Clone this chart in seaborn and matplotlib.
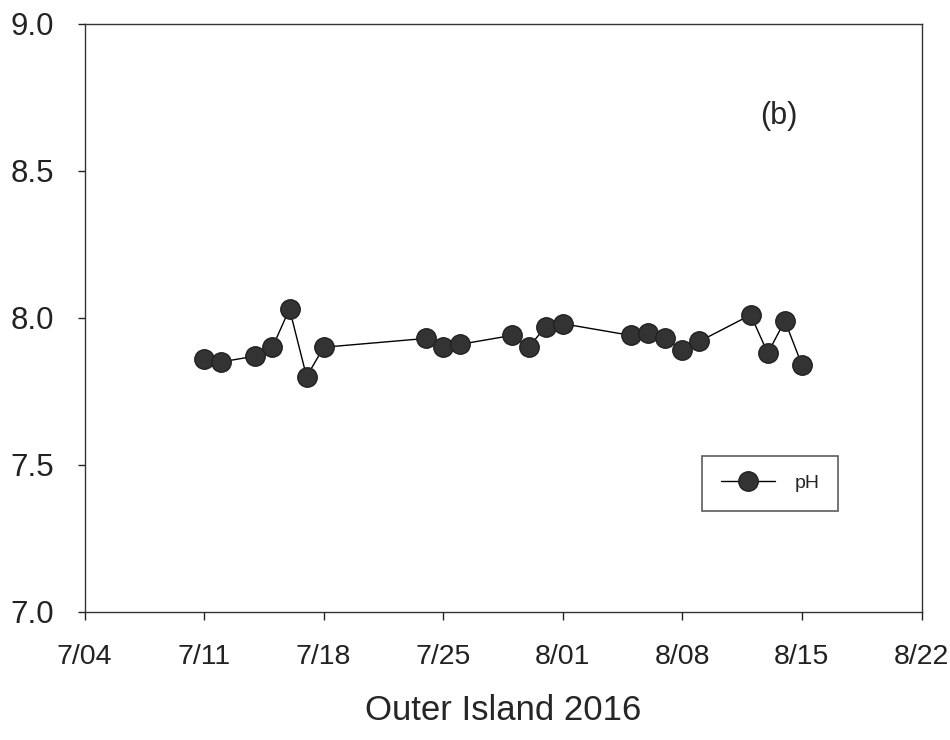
import matplotlib
matplotlib.use("Agg")
import matplotlib.pyplot as plt
import seaborn as sns
import pandas as pd

dates = ["2016-07-11", "2016-07-12", "2016-07-14", "2016-07-15", "2016-07-16",
         "2016-07-17", "2016-07-18", "2016-07-24", "2016-07-25", "2016-07-26",
         "2016-07-29", "2016-07-30", "2016-07-31", "2016-08-01", "2016-08-05",
         "2016-08-06", "2016-08-07", "2016-08-08", "2016-08-09", "2016-08-12",
         "2016-08-13", "2016-08-14", "2016-08-15"]
ph = [7.86, 7.85, 7.87, 7.90, 8.03, 7.80, 7.90, 7.93, 7.90, 7.91,
      7.94, 7.90, 7.97, 7.98, 7.94, 7.95, 7.93, 7.89, 7.92, 8.01,
      7.88, 7.99, 7.84]
tick_dates = ["2016-07-04", "2016-07-11", "2016-07-18", "2016-07-25",
              "2016-08-01", "2016-08-08", "2016-08-15", "2016-08-22"]
tick_labels = ["7/04", "7/11", "7/18", "7/25", "8/01", "8/08", "8/15", "8/22"]
y_ticks = [7.0, 7.5, 8.0, 8.5, 9.0]

df = pd.DataFrame({"date": pd.to_datetime(dates), "pH": ph})

sns.set_style("ticks")
plt.rcParams["font.family"] = ["Liberation Sans", "DejaVu Sans"]

fig = plt.figure(figsize=(9.5, 7.4), dpi=100)
ax = fig.add_axes([0.089, 0.173, 0.881, 0.795])

sns.lineplot(data=df, x="date", y="pH", ax=ax, color="black", linewidth=1.0,
             marker="o", markersize=14, markerfacecolor="#333333",
             markeredgecolor="#222222", markeredgewidth=1.0, label="pH")

ax.set_xlim(pd.Timestamp(tick_dates[0]), pd.Timestamp(tick_dates[-1]))
ax.set_ylim(7.0, 9.0)
ax.set_xticks(pd.to_datetime(tick_dates))
ax.set_xticklabels(tick_labels, fontsize=20.5)
ax.set_yticks(y_ticks)
ax.set_yticklabels([f"{v:.1f}" for v in y_ticks], fontsize=22.5)
ax.tick_params(axis="both", direction="out", length=5, width=1, colors="#222222")
ax.tick_params(axis="y", pad=17)
ax.tick_params(axis="x", length=6, pad=17)
ax.set_xlabel("Outer Island 2016", fontsize=25, labelpad=17)
ax.set_ylabel("")

for s in ax.spines.values():
    s.set_visible(True)
    s.set_linewidth(1.0)
    s.set_color("#333333")

ax.text(0.83, 0.843, "(b)", transform=ax.transAxes, fontsize=22, ha="center", va="center")

leg = ax.legend(loc="upper left", bbox_to_anchor=(0.738, 0.265), frameon=True,
                fancybox=False, edgecolor="#333333", fontsize=14,
                markerscale=1.0, handlelength=2.8, borderpad=0.95, handletextpad=1.0,
                borderaxespad=0)
leg.get_frame().set_linewidth(1.2)

fig.savefig("out.png", dpi=100)
